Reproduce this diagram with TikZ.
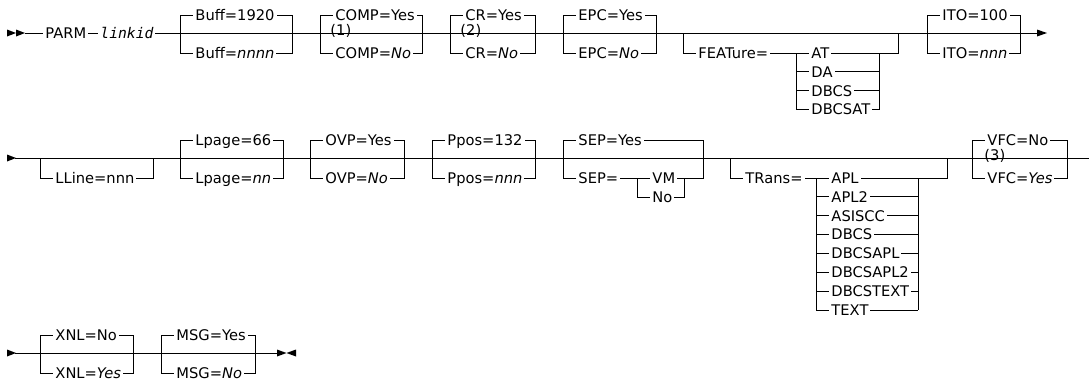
\documentclass[tikz,border=0pt]{standalone}
\usepackage{fontspec}
\setmainfont{DejaVu Sans}
\newfontfamily\kwmono{DejaVu Sans Mono}
\usepackage{tikz}
\newcommand{\synfont}{\fontsize{11}{13}\selectfont}

\begin{document}
\begin{tikzpicture}[x=0.75pt, y=-0.75pt, line width=0.7pt,
  lbl/.style={fill=white, inner sep=1.5pt, anchor=west, text height=7.9pt, text depth=0pt, font=\synfont},
  note/.style={inner sep=0pt, anchor=west, font=\synfont},
  tipfill/.style={fill=black, draw=none}]
\useasboundingbox (0,0) rectangle (1089,387);
% main lines and end marks
\draw (25,33) -- (1037,33);
\draw (15,158) -- (1089,158);
\draw (15,353) -- (278,353);
\path[tipfill] (7,29.5) -- (16,33) -- (7,36.5) -- cycle;
\path[tipfill] (16,29.5) -- (25,33) -- (16,36.5) -- cycle;
\path[tipfill] (1037,29.5) -- (1047,33) -- (1037,36.5) -- cycle;
\path[tipfill] (7,154.5) -- (16,158) -- (7,161.5) -- cycle;
\path[tipfill] (7,349.5) -- (16,353) -- (7,356.5) -- cycle;
\path[tipfill] (277,349.5) -- (286.5,353) -- (277,356.5) -- cycle;
\path[tipfill] (296,349.5) -- (286.5,353) -- (296,356.5) -- cycle;
% two-way choices
\foreach \n/\l/\r/\y/\t/\b in {buff/180/292/33/Buff=1920/Buff=\textit{nnnn},
    comp/320/422/33/COMP=Yes/COMP=\textit{No}, cr/450/535/33/CR=Yes/CR=\textit{No},
    epc/563/656/33/EPC=Yes/EPC=\textit{No}, ito/927/1020/33/ITO=100/ITO=\textit{nnn},
    lpage/180/283/158/Lpage=66/Lpage=\textit{nn}, ovp/310/404/158/OVP=Yes/OVP=\textit{No},
    ppos/432/535/158/Ppos=132/Ppos=\textit{nnn}, vfc/972/1067/158/VFC=No/VFC=\textit{Yes},
    xnl/40/133/353/XNL=No/XNL=\textit{Yes}, msg/161/255/353/MSG=Yes/MSG=\textit{No}}{
  \draw (\l,\y-18) rectangle (\r,\y+20);
  \node[lbl] (\n-top) at (\l+13,\y-18) {\t};
  \node[lbl] (\n-bot) at (\l+13,\y+20) {\b};
}
% SEP with its own sub-choice
\draw (563,140) rectangle (703,178);
\draw (637,178) -- (637,197) -- (684,197) -- (684,178);
\node[lbl] (sep-top) at (576,140) {SEP=Yes};
\node[lbl] (sep-bot) at (576,178) {SEP=};
\node[lbl] (sep-vm) at (650,178) {VM};
\node[lbl] (sep-no) at (650,197) {No};
% optional items
\draw (683,33) -- (683,53) -- (898,53) -- (898,33);
\draw (796,53) -- (796,53+18.9*3);
\draw (879,53) -- (879,53+18.9*3);
\node[lbl] (feat) at (696,53) {FEATure=};
\foreach \v [count=\i from 0] in {AT,DA,DBCS,DBCSAT}{
  \draw (796,53+18.9*\i) -- (879,53+18.9*\i);
  \node[lbl] (feat-\i) at (809,53+18.9*\i) {\v};
}
\draw (40,158) -- (40,178) -- (153,178) -- (153,158);
\node[lbl] (lline) at (53,178) {LLine=nnn};
\draw (730,158) -- (730,178) -- (947,178) -- (947,158);
\draw (816,178) -- (816,178+18.9*7);
\draw (918,178) -- (918,178+18.9*7);
\node[lbl] (trans) at (743,178) {TRans=};
\foreach \v [count=\i from 0] in {APL,APL2,ASISCC,DBCS,DBCSAPL,DBCSAPL2,DBCSTEXT,TEXT}{
  \draw (816,178+18.9*\i) -- (918,178+18.9*\i);
  \node[lbl] (trans-\i) at (829,178+18.9*\i) {\v};
}
% keyword and variable
\node[lbl] (parm) at (43,33) {PARM};
\node[lbl] (linkid) at (98,33) {\kwmono\itshape linkid};
% footnote marks
\node[note] (n1) at (330,30.5) {(1)};
\node[note] (n2) at (460,30.5) {(2)};
\node[note] (n3) at (984,155.5) {(3)};
\end{tikzpicture}
\end{document}
